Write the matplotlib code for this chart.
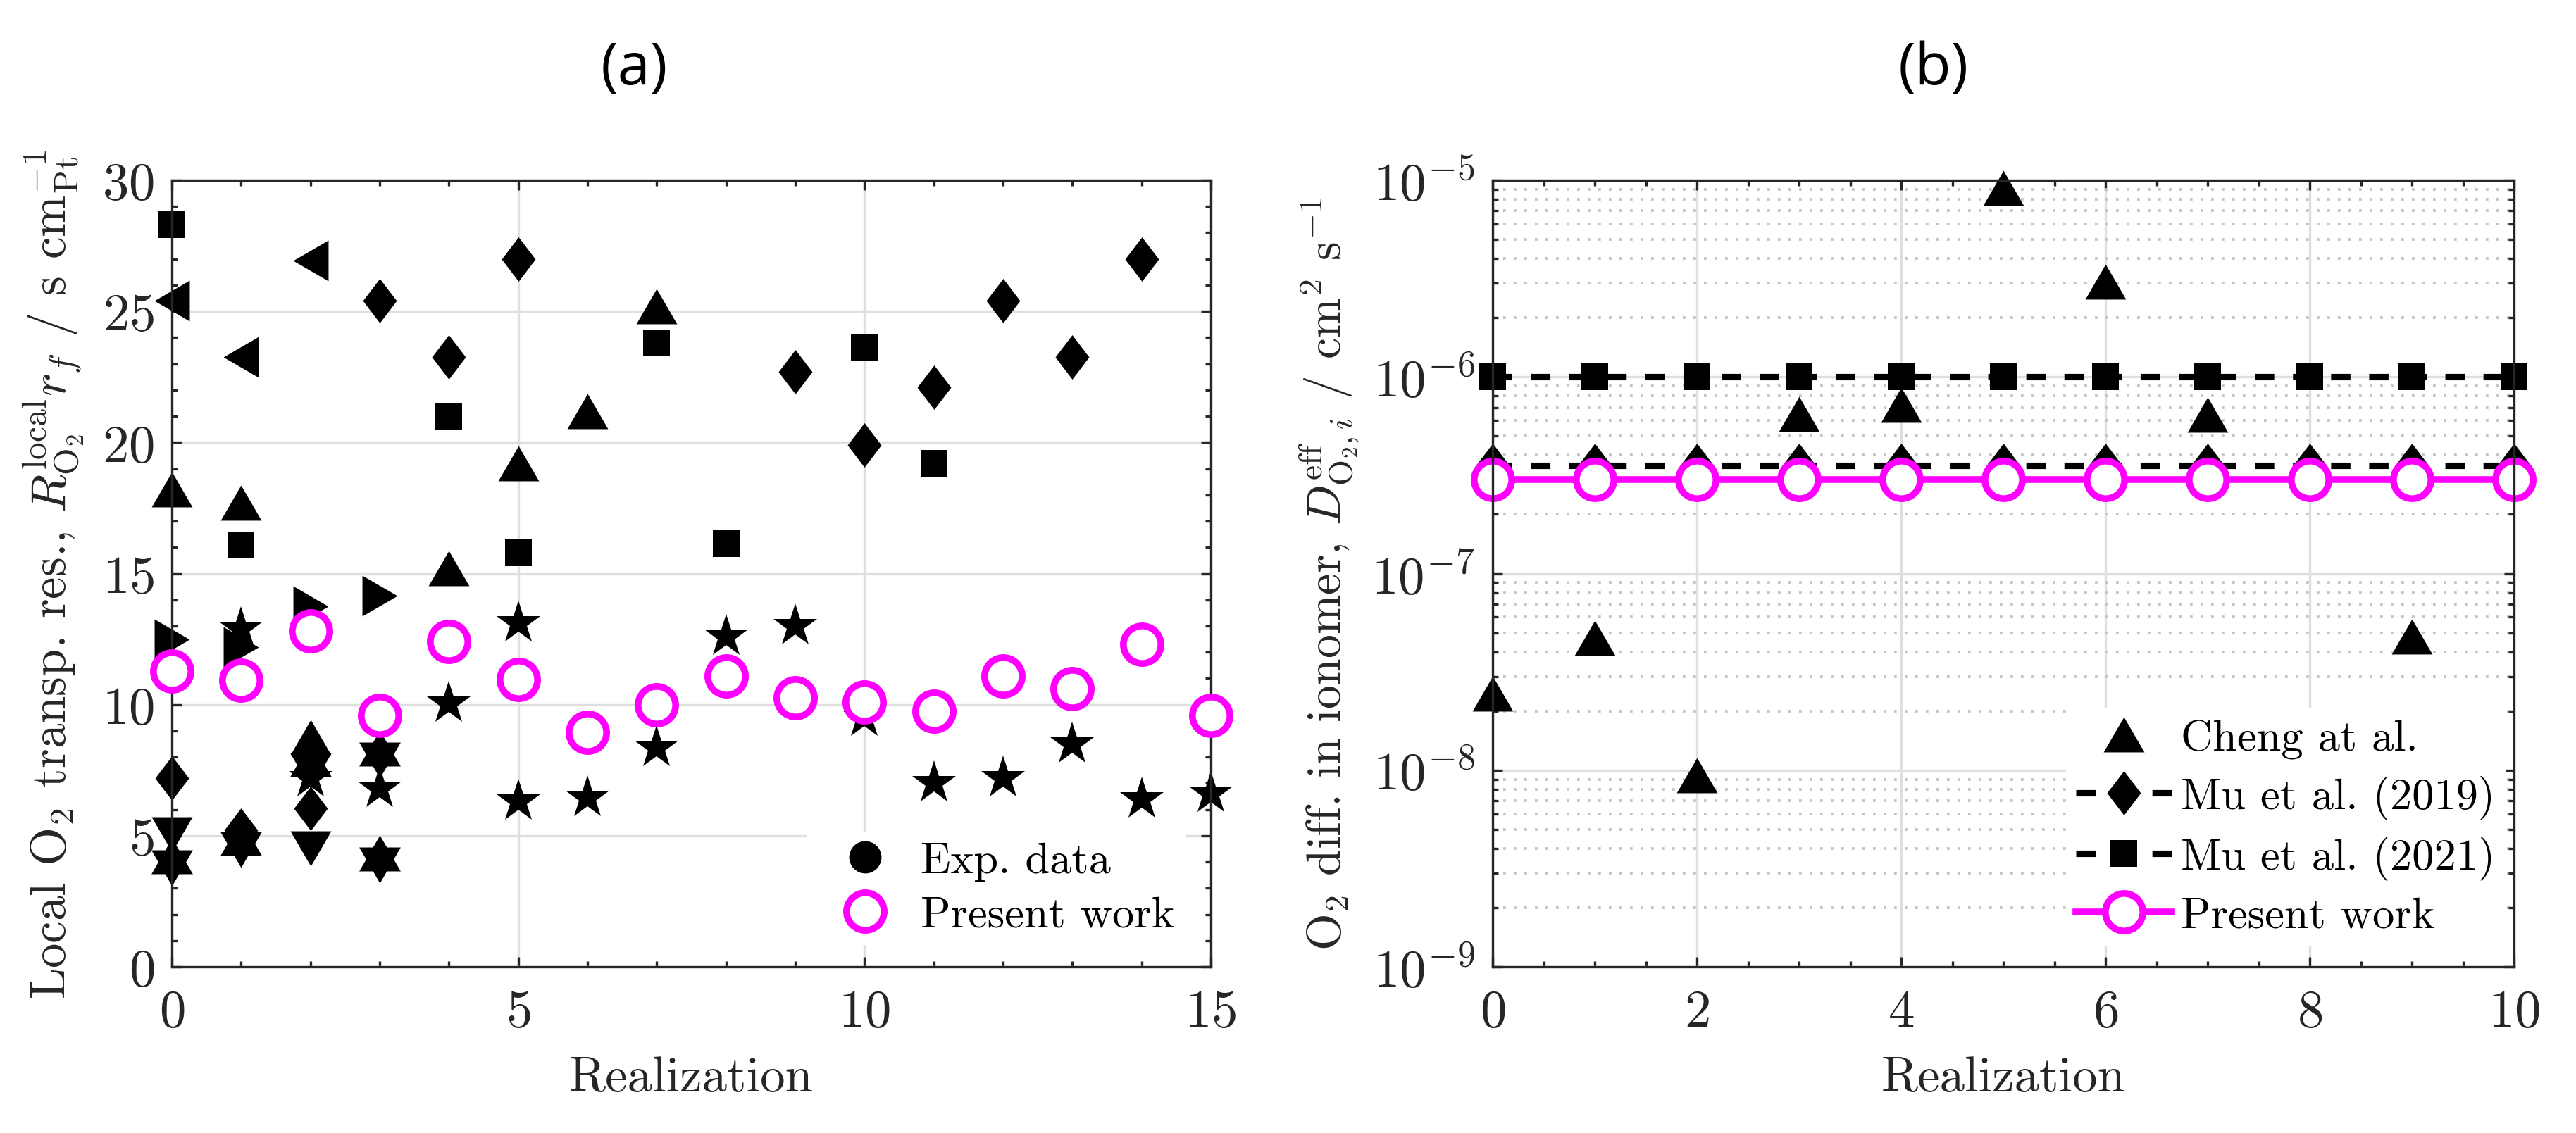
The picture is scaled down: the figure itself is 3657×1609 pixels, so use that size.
import matplotlib
matplotlib.use('Agg')
import matplotlib.pyplot as plt
from matplotlib.lines import Line2D
from matplotlib.ticker import MultipleLocator, FixedLocator, FixedFormatter, LogLocator, NullFormatter
import numpy as np

plt.rcParams['font.family'] = 'serif'
plt.rcParams['font.serif'] = ['cmr10']
plt.rcParams['mathtext.fontset'] = 'cm'
plt.rcParams['axes.formatter.use_mathtext'] = True

# ---------------- data, panel (a) ----------------
real_sq = [0, 1, 4, 5, 7, 8, 10, 11]
res_sq = [28.3, 16.1, 21.0, 15.8, 23.8, 16.15, 23.6, 19.2]

real_tl = [0, 1, 2]
res_tl = [25.4, 23.25, 26.95]

real_dm = [0, 1, 2, 3, 4, 5, 9, 10, 11, 12, 13, 14]
res_dm = [7.2, 5.2, 6.05, 25.4, 23.25, 27.0, 22.7, 19.9, 22.1, 25.4, 23.25, 27.0]

real_tu = [0, 1, 2, 4, 5, 6, 7]
res_tu = [18.2, 17.7, 8.75, 15.2, 19.2, 21.2, 25.2]

real_tr = [0, 1, 2, 3]
res_tr = [12.5, 12.2, 13.75, 14.15]

real_td = [0, 2]
res_td = [5.05, 4.5]

real_pg = [1, 2, 3, 4, 5, 5, 6, 7, 8, 9, 10, 11, 12, 13, 14, 15]
res_pg = [12.9, 7.2, 6.8, 10.05, 13.1, 6.3, 6.45, 8.35, 12.6, 13.0, 9.5, 7.0, 7.2, 8.5, 6.4, 6.6]

real_hg = [0, 1, 2, 3, 3]
res_hg = [4.0, 4.7, 7.7, 8.1, 4.1]

real_pw = [0, 1, 2, 3, 4, 5, 6, 7, 8, 9, 10, 11, 12, 13, 14, 15]
res_pw = [11.27, 10.94, 12.82, 9.6, 12.42, 10.95, 8.95, 10.0, 11.1, 10.25, 10.1, 9.75, 11.1, 10.6, 12.3, 9.6]

# ---------------- data, panel (b) ----------------
real_cheng = [0, 1, 2, 3, 4, 5, 6, 7, 9]
d_cheng = [2.45e-8, 4.72e-8, 9.4e-9, 6.45e-7, 7.2e-7, 9.1e-6, 3.05e-6, 6.4e-7, 4.78e-8]

real_b = [0, 1, 2, 3, 4, 5, 6, 7, 8, 9, 10]
d_mu2019 = [3.55e-7] * 11
d_mu2021 = [1.0e-6] * 11
d_present = [3.0e-7] * 11

# MATLAB-like marker shapes
tri_up = [(0, 0.862), (-1, -0.862), (1, -0.862)]
tri_down = [(0, -0.862), (-1, 0.862), (1, 0.862)]
tri_left = [(-0.862, 0), (0.862, 1), (0.862, -1)]
tri_right = [(0.862, 0), (-0.862, 1), (-0.862, -1)]
diamond = [(0, 1), (0.762, 0), (0, -1), (-0.762, 0)]
ang = np.pi / 2 + np.arange(12) * np.pi / 6
rad = np.where(np.arange(12) % 2 == 0, 1.0, 1 / np.sqrt(3))
hexagram = list(zip(rad * np.cos(ang), rad * np.sin(ang)))

magenta = (1, 0, 1)
gray = (0.15, 0.15, 0.15)

fig = plt.figure(figsize=(3657 / 300, 1610 / 300), dpi=300)
W, H = 3657, 1610
ax_a = fig.add_axes([244 / W, 1 - 1374 / H, 1475 / W, 1117 / H])
ax_b = fig.add_axes([2119 / W, 1 - 1374 / H, 1450 / W, 1117 / H])

mk = dict(ls='none', color='k', mew=0, clip_on=False)
ax_a.plot(real_sq, res_sq, marker='s', ms=8.9, **mk)
ax_a.plot(real_tl, res_tl, marker=tri_left, ms=13.9, **mk)
ax_a.plot(real_dm, res_dm, marker=diamond, ms=15.1, **mk)
ax_a.plot(real_tu, res_tu, marker=tri_up, ms=13.9, **mk)
ax_a.plot(real_tr, res_tr, marker=tri_right, ms=13.9, **mk)
ax_a.plot(real_td, res_td, marker=tri_down, ms=13.9, **mk)
ax_a.plot(real_pg, res_pg, marker='*', ms=15.4, **mk)
ax_a.plot(real_hg, res_hg, marker=hexagram, ms=16.3, **mk)
ax_a.plot(real_pw, res_pw, ls='none', marker='o', ms=12.8, mew=2.3,
          mec=magenta, mfc='white', clip_on=False, zorder=3)

ax_a.set_xlim(0, 15)
ax_a.set_ylim(0, 30)
ax_a.xaxis.set_major_locator(MultipleLocator(5))
ax_a.xaxis.set_minor_locator(MultipleLocator(1))
ax_a.yaxis.set_major_locator(MultipleLocator(5))
ax_a.yaxis.set_minor_locator(MultipleLocator(1))
ax_a.set_xlabel('Realization', fontsize=17, color=gray)
ax_a.set_ylabel(r'Local O$_2$ transp. res., $R^{\mathrm{local}}_{\mathrm{O}_2}r_f$ / s cm$^{-1}_{\mathrm{Pt}}$',
                fontsize=17, color=gray)

leg_a = [Line2D([], [], ls='none', marker='o', color='k', ms=11, mew=0),
         Line2D([], [], ls='none', marker='o', ms=12.8, mew=2.3, mec=magenta, mfc='white')]
ax_a.legend(leg_a, ['Exp. data', 'Present work'], loc='lower right', bbox_to_anchor=(0.974, 0.0295),
            fontsize=15, fancybox=False, framealpha=1, edgecolor='white', borderpad=0.2,
            handlelength=2.15, handletextpad=0.2, labelspacing=0.33, borderaxespad=0)

# ---------------- panel (b) ----------------
ax_b.plot(real_cheng, d_cheng, ls='none', marker=tri_up, ms=13.9, color='k', mew=0, clip_on=False,
          label='Cheng at al.')
ax_b.plot(real_b, d_mu2019, color='k', lw=2.2, dashes=(3, 2.9), marker=diamond, ms=15.1, mew=0,
          clip_on=False, label='Mu et al. (2019)')
ax_b.plot(real_b, d_mu2021, color='k', lw=2.2, dashes=(3, 2.9), marker='s', ms=8.9, mew=0,
          clip_on=False, label='Mu et al. (2021)')
ax_b.plot(real_b, d_present, color=magenta, lw=2.3, marker='o', ms=12.8, mew=2.3, mec=magenta,
          mfc='white', clip_on=False, label='Present work')

ax_b.set_yscale('log')
ax_b.set_xlim(0, 10)
ax_b.set_ylim(1e-9, 1e-5)
ax_b.xaxis.set_major_locator(MultipleLocator(2))
ax_b.xaxis.set_minor_locator(MultipleLocator(0.5))
ax_b.yaxis.set_major_locator(FixedLocator([1e-9, 1e-8, 1e-7, 1e-6, 1e-5]))
ax_b.yaxis.set_major_formatter(FixedFormatter([r'$10^{-9}$', r'$10^{-8}$', r'$10^{-7}$',
                                               r'$10^{-6}$', r'$10^{-5}$']))
ax_b.yaxis.set_minor_locator(LogLocator(base=10, subs=np.arange(2, 10), numticks=20))
ax_b.yaxis.set_minor_formatter(NullFormatter())
ax_b.set_xlabel('Realization', fontsize=17, color=gray)
ax_b.set_ylabel(r'O$_2$ diff. in ionomer, $D^{\mathrm{eff}}_{\mathrm{O}_2,i}$ / cm$^2$ s$^{-1}$',
                fontsize=16.3, color=gray)
ax_b.grid(which='minor', axis='y', color='#c4c4c4', lw=0.9, ls=(0, (1, 3)))
ax_b.legend(loc='lower right', bbox_to_anchor=(0.99, 0.0286), fontsize=15, fancybox=False,
            framealpha=1, edgecolor='white', borderpad=0.2, handlelength=2.18, handletextpad=0.2,
            labelspacing=0.37, borderaxespad=0)

for ax in (ax_a, ax_b):
    ax.set_axisbelow(True)
    ax.grid(which='major', color='#dfdfdf', lw=0.8)
    ax.tick_params(which='both', direction='in', top=True, right=True, width=0.8,
                   colors=gray, labelsize=18)
    ax.tick_params(which='major', length=3.4)
    ax.tick_params(which='minor', length=2.0)
    ax.tick_params(axis='x', pad=7.5)
    ax.tick_params(axis='y', pad=6)
    for sp in ax.spines.values():
        sp.set_color(gray)
        sp.set_linewidth(0.8)

ax_a.xaxis.set_label_coords(0.5, -0.113)
ax_b.xaxis.set_label_coords(0.5, -0.113)
ax_a.yaxis.set_label_coords(-0.083, 0.5)
ax_b.yaxis.set_label_coords(-0.129, 0.5)

fig.text(900 / W, 1 - 99 / H, '(a)', fontsize=20, family='Open Sans', ha='center', va='center')
fig.text(2745 / W, 1 - 99 / H, '(b)', fontsize=20, family='Open Sans', ha='center', va='center')

fig.savefig('out.png', dpi=300)
